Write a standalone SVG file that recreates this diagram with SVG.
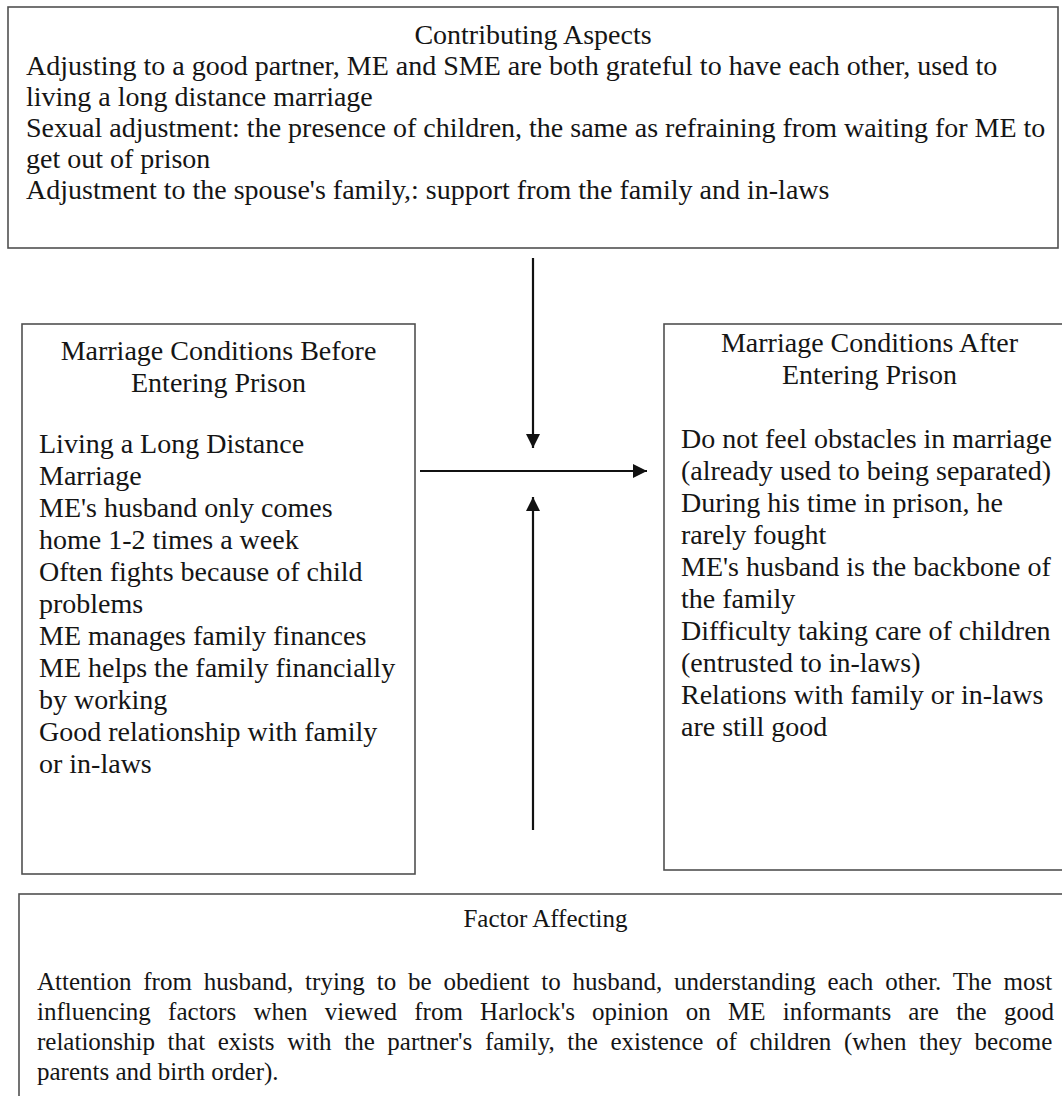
<svg xmlns="http://www.w3.org/2000/svg" width="1062" height="1096" viewBox="0 0 1062 1096">
<style>
.box{fill:#fff;stroke:#505050;stroke-width:1.6}
.t{font-family:"Liberation Serif","Times New Roman",serif;font-size:28px;fill:#151515}
.c{text-anchor:middle}
.b{font-family:"Liberation Serif","Times New Roman",serif;font-size:25px;fill:#151515}
.arr{stroke:#111;stroke-width:2.2;fill:none;marker-end:url(#ah)}
</style>
<defs>
<marker id="ah" markerUnits="userSpaceOnUse" markerWidth="15" markerHeight="15" viewBox="0 0 15 15" refX="14" refY="7.5" orient="auto">
<path d="M0,0.5 L14,7.5 L0,14.5 z" fill="#111"/>
</marker>
</defs>
<rect width="1062" height="1096" fill="#fff"/>

<g id="contributing">
<rect class="box" x="8" y="7" width="1050" height="241"/>
<text class="t c" x="533" y="44">Contributing Aspects</text>
<text class="t" x="26" y="75">Adjusting to a good partner, ME and SME are both grateful to have each other, used to</text>
<text class="t" x="26" y="106">living a long distance marriage</text>
<text class="t" x="26" y="137">Sexual adjustment: the presence of children, the same as refraining from waiting for ME to</text>
<text class="t" x="26" y="168">get out of prison</text>
<text class="t" x="26" y="199">Adjustment to the spouse's family,: support from the family and in-laws</text>
</g>

<g id="before">
<rect class="box" x="22" y="324" width="393" height="550"/>
<text class="t c" x="218.5" y="360">Marriage Conditions Before</text>
<text class="t c" x="218.5" y="392">Entering Prison</text>
<text class="t" x="39" y="453">Living a Long Distance</text>
<text class="t" x="39" y="485">Marriage</text>
<text class="t" x="39" y="517">ME's husband only comes</text>
<text class="t" x="39" y="549">home 1-2 times a week</text>
<text class="t" x="39" y="581">Often fights because of child</text>
<text class="t" x="39" y="613">problems</text>
<text class="t" x="39" y="645">ME manages family finances</text>
<text class="t" x="39" y="677">ME helps the family financially</text>
<text class="t" x="39" y="709">by working</text>
<text class="t" x="39" y="741">Good relationship with family</text>
<text class="t" x="39" y="773">or in-laws</text>
</g>

<g id="after">
<rect class="box" x="664" y="324" width="411" height="546"/>
<text class="t c" x="869.5" y="352">Marriage Conditions After</text>
<text class="t c" x="869.5" y="384">Entering Prison</text>
<text class="t" x="681" y="448">Do not feel obstacles in marriage</text>
<text class="t" x="681" y="480">(already used to being separated)</text>
<text class="t" x="681" y="512">During his time in prison, he</text>
<text class="t" x="681" y="544">rarely fought</text>
<text class="t" x="681" y="576">ME's husband is the backbone of</text>
<text class="t" x="681" y="608">the family</text>
<text class="t" x="681" y="640">Difficulty taking care of children</text>
<text class="t" x="681" y="672">(entrusted to in-laws)</text>
<text class="t" x="681" y="704">Relations with family or in-laws</text>
<text class="t" x="681" y="736">are still good</text>
</g>

<g id="factor">
<rect class="box" x="19" y="894" width="1053" height="230"/>
<text class="b c" x="545.5" y="927">Factor Affecting</text>
<text class="b" x="37" y="990" word-spacing="5.59">Attention from husband, trying to be obedient to husband, understanding each other. The most</text>
<text class="b" x="37" y="1020" word-spacing="11.01">influencing factors when viewed from Harlock's opinion on ME informants are the good</text>
<text class="b" x="37" y="1050" word-spacing="6.32">relationship that exists with the partner's family, the existence of children (when they become</text>
<text class="b" x="37" y="1080">parents and birth order).</text>
</g>

<g id="connectors">
<line class="arr" x1="533" y1="258" x2="533" y2="448"/>
<line class="arr" x1="420" y1="471" x2="647" y2="471"/>
<line class="arr" x1="533" y1="830" x2="533" y2="497"/>
</g>
</svg>
